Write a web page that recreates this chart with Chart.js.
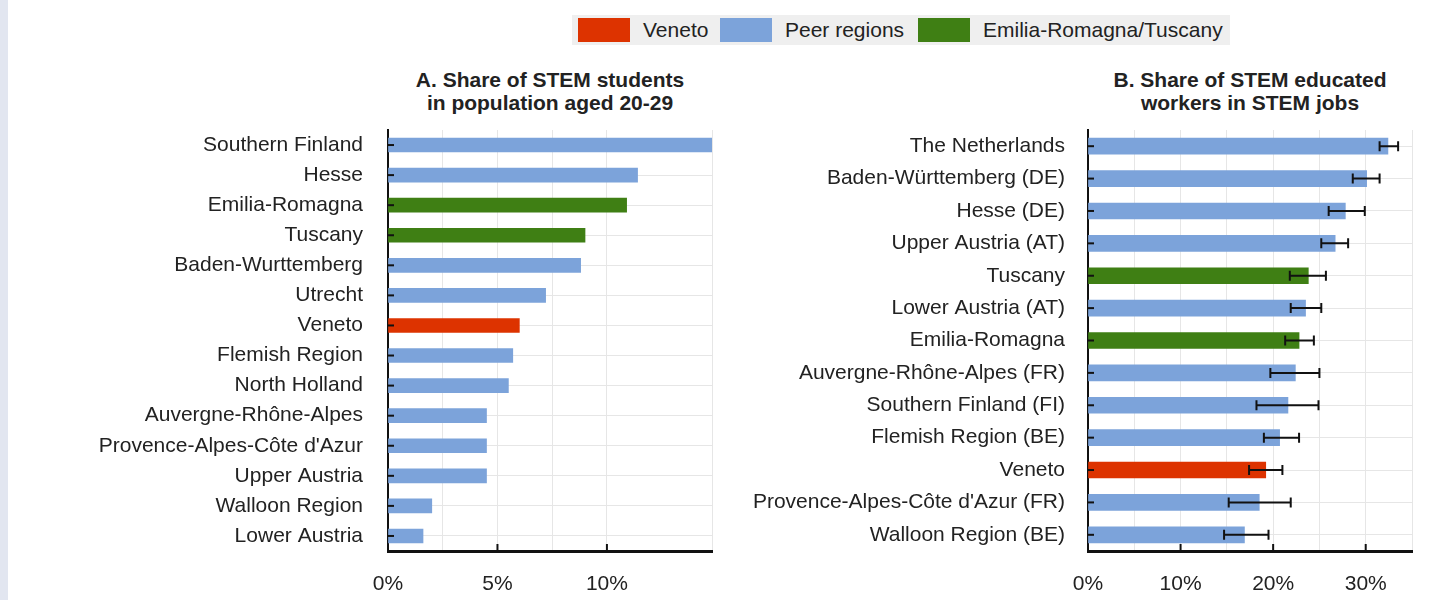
<!DOCTYPE html>
<html>
<head>
<meta charset="utf-8">
<script src="https://cdn.jsdelivr.net/npm/chart.js@4"></script>
<style>
  body { margin: 0; width: 1435px; height: 600px; background: #fff; position: relative; overflow: hidden;
         font-family: "Liberation Sans", Arial, sans-serif; color: #222; }
  .strip { position: absolute; left: 0; top: 0; width: 8px; height: 600px; background: #e2e6f0; }
  .legend { position: absolute; left: 572px; top: 15px; width: 658px; height: 30px; background: #efefef; }
  .sw { position: absolute; top: 3px; width: 52px; height: 24px; }
  .lt { position: absolute; top: 3px; font-size: 21px; line-height: 24px; white-space: nowrap; }
  .title { position: absolute; top: 68px; width: 400px; text-align: center; font-weight: bold;
           font-size: 21px; line-height: 23px; }
  canvas { position: absolute; }
</style>
</head>
<body>
<div class="strip"></div>
<div class="legend">
  <div class="sw" style="left:6px;background:#dd3300"></div><div class="lt" style="left:71px">Veneto</div>
  <div class="sw" style="left:148px;background:#7ca3da"></div><div class="lt" style="left:213px">Peer regions</div>
  <div class="sw" style="left:346px;background:#3f7f14"></div><div class="lt" style="left:411px">Emilia-Romagna/Tuscany</div>
</div>
<div class="title" style="left:350px">A. Share of STEM students<br>in population aged 20-29</div>
<div class="title" style="left:1050px">B. Share of STEM educated<br>workers in STEM jobs</div>
<canvas id="chartA" width="650" height="482" style="left:80px;top:118px"></canvas>
<canvas id="chartB" width="695" height="482" style="left:740px;top:118px"></canvas>
<script>
// colours per group
const groupColors = { veneto: "#dd3300", peer: "#7ca3da", er: "#3f7f14" };

// Panel A: share of STEM students in population aged 20-29 (%)
const regionsA = ["Southern Finland", "Hesse", "Emilia-Romagna", "Tuscany", "Baden-Wurttemberg", "Utrecht",
  "Veneto", "Flemish Region", "North Holland", "Auvergne-Rhône-Alpes", "Provence-Alpes-Côte d'Azur",
  "Upper Austria", "Walloon Region", "Lower Austria"];
const studentsA = [14.8, 11.4, 10.9, 9.0, 8.8, 7.2, 6.0, 5.7, 5.5, 4.5, 4.5, 4.5, 2.0, 1.6];
const groupsA = ["peer", "peer", "er", "er", "peer", "peer", "veneto", "peer", "peer", "peer", "peer", "peer", "peer", "peer"];

// Panel B: share of STEM educated workers in STEM jobs (%), with confidence bands
const regionsB = ["The Netherlands", "Baden-Württemberg (DE)", "Hesse (DE)", "Upper Austria (AT)", "Tuscany",
  "Lower Austria (AT)", "Emilia-Romagna", "Auvergne-Rhône-Alpes (FR)", "Southern Finland (FI)",
  "Flemish Region (BE)", "Veneto", "Provence-Alpes-Côte d'Azur (FR)", "Walloon Region (BE)"];
const workersB = [32.4, 30.1, 27.8, 26.7, 23.8, 23.5, 22.8, 22.4, 21.6, 20.7, 19.2, 18.5, 16.9];
const lowB = [31.5, 28.6, 26.0, 25.2, 21.8, 21.9, 21.3, 19.7, 18.2, 19.0, 17.4, 15.2, 14.7];
const highB = [33.5, 31.5, 29.9, 28.1, 25.7, 25.2, 24.4, 25.0, 24.9, 22.8, 21.0, 21.9, 19.5];
const groupsB = ["peer", "peer", "peer", "peer", "er", "peer", "er", "peer", "peer", "peer", "veneto", "peer", "peer"];

const FONT = { family: "'Liberation Sans', Arial, sans-serif", size: 21 };

// draws error bars plus the small inner tick marks on both axes
const extrasPlugin = {
  id: "extras",
  afterDatasetsDraw(chart, args, opts) {
    const ctx = chart.ctx, x = chart.scales.x, y = chart.scales.y;
    ctx.save();
    ctx.strokeStyle = "#111";
    ctx.lineWidth = 2;
    // y inner ticks
    chart.data.labels.forEach((l, i) => {
      const py = y.getPixelForValue(i);
      ctx.beginPath(); ctx.moveTo(x.left, py); ctx.lineTo(x.left + 6, py); ctx.stroke();
    });
    // x inner ticks
    opts.xTicks.forEach(v => {
      const px = x.getPixelForValue(v);
      ctx.beginPath(); ctx.moveTo(px, y.bottom); ctx.lineTo(px, y.bottom - 7); ctx.stroke();
    });
    if (opts.low) {
      opts.low.forEach((lo, i) => {
        const py = y.getPixelForValue(i);
        const x1 = x.getPixelForValue(lo), x2 = x.getPixelForValue(opts.high[i]);
        ctx.beginPath();
        ctx.moveTo(x1, py); ctx.lineTo(x2, py);
        ctx.moveTo(x1, py - 5); ctx.lineTo(x1, py + 5);
        ctx.moveTo(x2, py - 5); ctx.lineTo(x2, py + 5);
        ctx.stroke();
      });
    }
    ctx.restore();
  }
};

function makeChart(id, labels, values, groups, opt) {
  return new Chart(document.getElementById(id), {
    type: "bar",
    data: {
      labels: labels,
      datasets: [{
        data: values,
        backgroundColor: groups.map(g => groupColors[g]),
        barThickness: opt.thickness,
        borderWidth: 0
      }]
    },
    options: {
      indexAxis: "y",
      responsive: false,
      animation: false,
      layout: { padding: { top: 12, right: opt.padRight, left: 0, bottom: 0 } },
      plugins: {
        legend: { display: false },
        tooltip: { enabled: false },
        extras: { xTicks: opt.xTicks, low: opt.low, high: opt.high }
      },
      scales: {
        x: {
          min: 0, max: opt.max,
          ticks: {
            stepSize: opt.step, color: "#222", font: FONT, padding: 21,
            maxRotation: 0, minRotation: 0, autoSkip: false,
            callback: v => (Math.abs(v % opt.labelStep) < 1e-6 ? v + "%" : "")
          },
          grid: { color: "#e6e6e6", drawTicks: false },
          border: { color: "#111", width: 3 },
          afterFit: s => { s.height = 49; s.paddingLeft = 0; s.paddingRight = 0; }
        },
        y: {
          ticks: { color: "#222", font: FONT, padding: opt.labelPad },
          grid: { color: "#e6e6e6", drawTicks: false, offset: false },
          border: { color: "#111", width: 2 },
          afterFit: s => { s.width = opt.axisWidth; s.paddingTop = 0; s.paddingBottom = 0; }
        }
      }
    },
    plugins: [extrasPlugin]
  });
}

makeChart("chartA", regionsA, studentsA, groupsA, {
  thickness: 14, padRight: 18, max: 14.8, step: 2.5, labelStep: 5,
  axisWidth: 308, labelPad: 25, xTicks: [5, 10]
});
makeChart("chartB", regionsB, workersB, groupsB, {
  thickness: 16, padRight: 23, max: 35, step: 5, labelStep: 10,
  axisWidth: 348, labelPad: 23, xTicks: [10, 20, 30], low: lowB, high: highB
});
</script>
</body>
</html>
